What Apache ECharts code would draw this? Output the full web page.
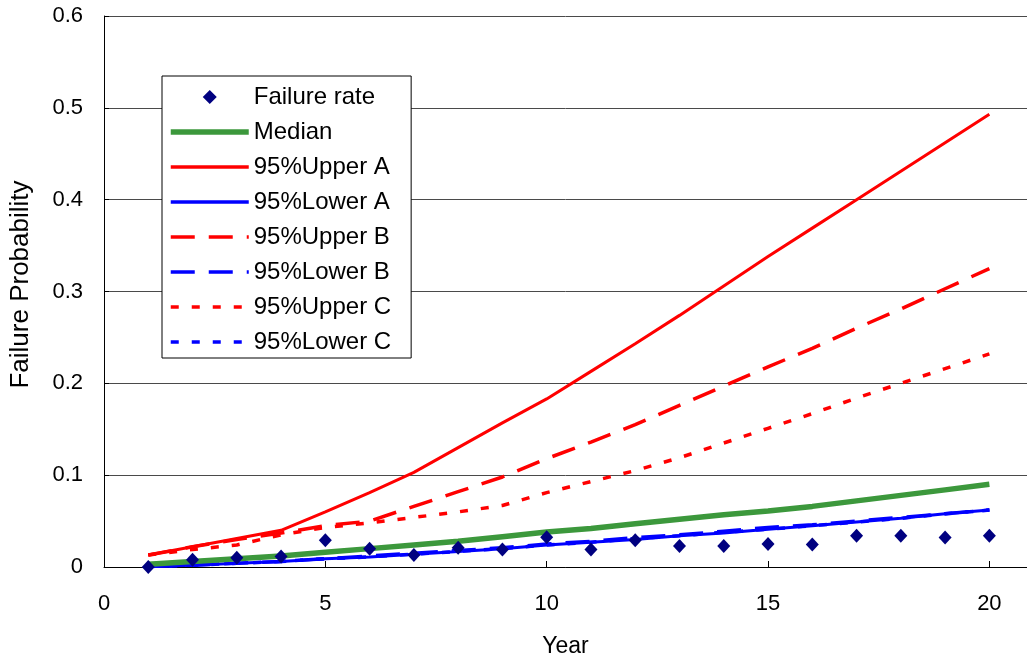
<!DOCTYPE html>
<html>
<head>
<meta charset="utf-8">
<script src="https://cdn.jsdelivr.net/npm/echarts@6/dist/echarts.min.js"></script>
<style>
  html, body { margin: 0; padding: 0; background: #fff; }
  #chart { width: 1027px; height: 663px; }
</style>
</head>
<body>
<div id="chart"></div>
<script>
// Service years
const years = [1, 2, 3, 4, 5, 6, 7, 8, 9, 10, 11, 12, 13, 14, 15, 16, 17, 18, 19, 20];

// Observed failure rate per year
const failureRate = [0.000, 0.008, 0.010, 0.0115, 0.029, 0.020, 0.013, 0.021, 0.019, 0.0325,
                     0.019, 0.029, 0.023, 0.023, 0.025, 0.0245, 0.034, 0.034, 0.032, 0.034];

// Median failure probability
const median = [0.003, 0.006, 0.009, 0.012, 0.016, 0.020, 0.024, 0.028, 0.033, 0.038,
                0.042, 0.047, 0.052, 0.057, 0.061, 0.066, 0.072, 0.078, 0.084, 0.090];

// 95% confidence bounds, method A
const upperA = [0.013, 0.022, 0.031, 0.040, 0.060, 0.081, 0.103, 0.130, 0.157, 0.183,
                0.213, 0.243, 0.274, 0.306, 0.338, 0.369, 0.400, 0.431, 0.462, 0.493];
const lowerA = [0.0005, 0.002, 0.004, 0.006, 0.009, 0.011, 0.014, 0.017, 0.020, 0.024,
                0.027, 0.030, 0.034, 0.037, 0.041, 0.045, 0.049, 0.053, 0.058, 0.062];

// 95% confidence bounds, method B
const upperB = [0.013, 0.022, 0.030, 0.037, 0.045, 0.050, 0.066, 0.082, 0.098, 0.118,
                0.136, 0.155, 0.176, 0.197, 0.218, 0.238, 0.260, 0.281, 0.303, 0.325];
const lowerB = [0.0005, 0.002, 0.004, 0.006, 0.009, 0.012, 0.015, 0.018, 0.021, 0.025,
                0.028, 0.032, 0.035, 0.039, 0.043, 0.046, 0.050, 0.054, 0.058, 0.062];

// 95% confidence bounds, method C
const upperC = [0.013, 0.019, 0.024, 0.035, 0.043, 0.048, 0.054, 0.060, 0.067, 0.081,
                0.093, 0.105, 0.119, 0.135, 0.151, 0.167, 0.184, 0.200, 0.216, 0.232];
const lowerC = [0.0005, 0.002, 0.004, 0.006, 0.009, 0.011, 0.014, 0.017, 0.020, 0.024,
                0.027, 0.031, 0.034, 0.038, 0.041, 0.045, 0.049, 0.053, 0.058, 0.062];

const FONT = 'Liberation Sans, Arial, sans-serif';

const pairs = arr => years.map((y, i) => [y, arr[i]]);

function lineSeries(name, data, color, width, type, z) {
  return {
    name: name,
    type: 'line',
    data: pairs(data),
    symbol: 'none',
    showSymbol: false,
    z: z || 2,
    color: color,
    lineStyle: { color: color, width: width, type: type, cap: 'butt' },
    emphasis: { disabled: true }
  };
}

// Line entries in the legend show only the stroke (marker hidden)
const lineLegend = (name, width) => ({ name: name, itemStyle: { opacity: 0 }, lineStyle: { width: width } });

const chart = echarts.init(document.getElementById('chart'), null, { renderer: 'canvas' });

chart.setOption({
  animation: false,
  backgroundColor: '#ffffff',
  textStyle: { fontFamily: FONT },
  grid: { left: 100, top: 16, right: 0, height: 553, containLabel: false },
  xAxis: {
    type: 'value',
    min: 0,
    max: 20.85,
    interval: 5,
    name: 'Year',
    nameLocation: 'middle',
    nameGap: 68,
    nameTextStyle: { fontSize: 23, color: '#000', fontFamily: FONT },
    axisLine: { show: true, onZero: false, lineStyle: { color: '#000', width: 1 } },
    axisTick: { show: true, inside: true, length: 6, lineStyle: { color: '#000' } },
    axisLabel: { fontSize: 22, color: '#000', margin: 26, fontFamily: FONT, showMaxLabel: false },
    splitLine: { show: false }
  },
  yAxis: {
    type: 'value',
    min: 0,
    max: 0.6,
    interval: 0.1,
    name: 'Failure Probability',
    nameLocation: 'middle',
    nameGap: 70,
    nameTextStyle: { fontSize: 26, color: '#000', fontFamily: FONT, padding: [0, 0, 0, 14] },
    axisLine: { show: true, lineStyle: { color: '#000', width: 1 } },
    axisTick: { show: true, inside: true, length: 5, lineStyle: { color: '#000' } },
    axisLabel: { fontSize: 22, color: '#000', margin: 21, fontFamily: FONT },
    splitLine: { show: true, lineStyle: { color: '#4a4a4a', width: 1 } }
  },
  legend: {
    orient: 'vertical',
    left: 162,
    top: 76,
    padding: [9, 20, 4, 6],
    itemGap: 11,
    itemWidth: 78,
    itemHeight: 14,
    itemTextGap: 4,
    symbolKeepAspect: true,
    backgroundColor: '#ffffff',
    borderColor: '#000',
    borderWidth: 1,
    borderRadius: 0,
    textStyle: { fontSize: 24, color: '#000', fontFamily: FONT },
    selectedMode: false,
    data: [
      { name: 'Failure rate', icon: 'path://M6,0L12,6L6,12L0,6Z', itemStyle: { color: '#000080', opacity: 1 } },
      lineLegend('Median', 5.5),
      lineLegend('95%Upper A', 3.5),
      lineLegend('95%Lower A', 3.5),
      lineLegend('95%Upper B', 3.5),
      lineLegend('95%Lower B', 3.5),
      lineLegend('95%Upper C', 3.5),
      lineLegend('95%Lower C', 3.5)
    ]
  },
  series: [
    {
      name: 'Failure rate',
      type: 'scatter',
      data: pairs(failureRate),
      symbol: 'diamond',
      symbolSize: [13, 14],
      z: 5,
      itemStyle: { color: '#000080', opacity: 1 },
      emphasis: { disabled: true }
    },
    lineSeries('Median', median, '#3c983c', 5.5, 'solid', 3),
    lineSeries('95%Upper A', upperA, '#ff0000', 3, 'solid'),
    lineSeries('95%Lower A', lowerA, '#0000ff', 3, 'solid'),
    lineSeries('95%Upper B', upperB, '#ff0000', 3.5, [24, 14]),
    lineSeries('95%Lower B', lowerB, '#0000ff', 3.5, [24, 14]),
    lineSeries('95%Upper C', upperC, '#ff0000', 3.5, [8, 13]),
    lineSeries('95%Lower C', lowerC, '#0000ff', 3.5, [8, 13])
  ]
});
</script>
</body>
</html>
